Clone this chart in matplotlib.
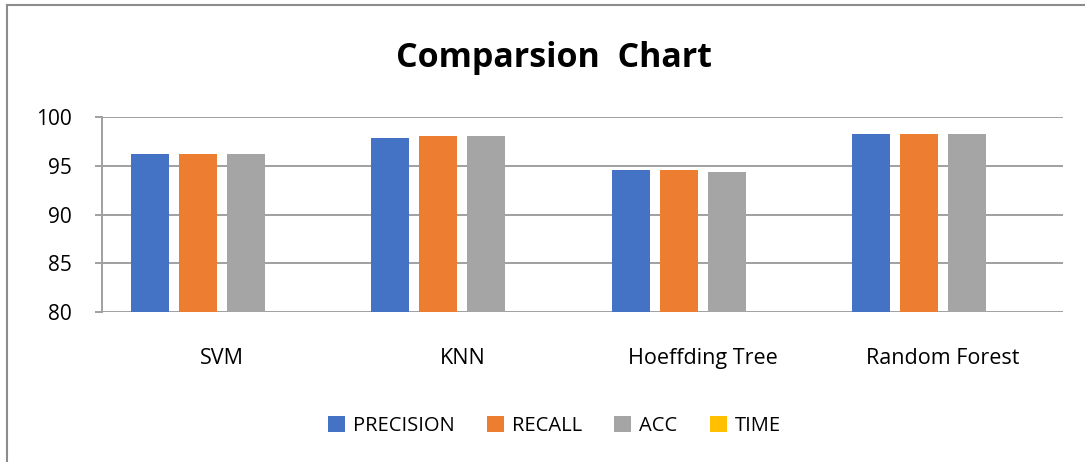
import numpy as np
import matplotlib.pyplot as plt
from matplotlib.lines import Line2D

plt.rcParams["font.family"] = ["Open Sans", "DejaVu Sans"]

models = ["SVM", "KNN", "Hoeffding Tree", "Random Forest"]
precision = [96.2, 97.85, 94.56, 98.26]
recall = [96.2, 98.05, 94.56, 98.26]
acc = [96.2, 98.05, 94.36, 98.26]
time = [0, 0, 0, 0]

series = ["PRECISION", "RECALL", "ACC", "TIME"]
colors = ["#4472C4", "#ED7D31", "#A5A5A5", "#FFC000"]

fig = plt.figure(figsize=(10.85, 4.62), dpi=100)
ax = fig.add_axes([0.094, 0.3247, 0.8857, 0.422])

x = np.arange(len(models))
width = 0.158
step = 0.2
for i, (vals, name, c) in enumerate(zip([precision, recall, acc, time], series, colors)):
    ax.bar(x + (i - 1.5) * step, vals, width, color=c, label=name, zorder=3)

ax.set_ylim(80, 100)
ax.set_xlim(-0.5, 3.5)
ax.set_yticks([80, 85, 90, 95, 100])
ax.yaxis.grid(True, color="#A0A0A0", linewidth=1.4, zorder=0)
for s in ["top", "right", "bottom"]:
    ax.spines[s].set_visible(False)
ax.spines["left"].set_color("#A0A0A0")
ax.spines["left"].set_linewidth(1.4)
ax.tick_params(axis="y", length=5, width=1.4, color="#A0A0A0", labelsize=15, pad=17)
ax.tick_params(axis="x", length=0, labelsize=15.5, pad=26)
ax.set_xticks(x)
ax.set_xticklabels(models)

fig.text(0.511, 0.875, "Comparsion  Chart", ha="center", va="center",
         fontsize=24.5, fontweight="bold")

fig.legend(loc="center", bbox_to_anchor=(0.511, 0.078), ncol=4, frameon=False,
           fontsize=14.5, handlelength=0.85, handleheight=0.85, columnspacing=1.6,
           handletextpad=0.4)

# chart border
fig.add_artist(Line2D([7 / 1085, 1.0], [1 - 5 / 462, 1 - 5 / 462],
                      transform=fig.transFigure, color="#8C8C8C", linewidth=1.5))
fig.add_artist(Line2D([7 / 1085, 7 / 1085], [0.0, 1 - 5 / 462],
                      transform=fig.transFigure, color="#8C8C8C", linewidth=1.5))

fig.savefig("out.png", dpi=100)
